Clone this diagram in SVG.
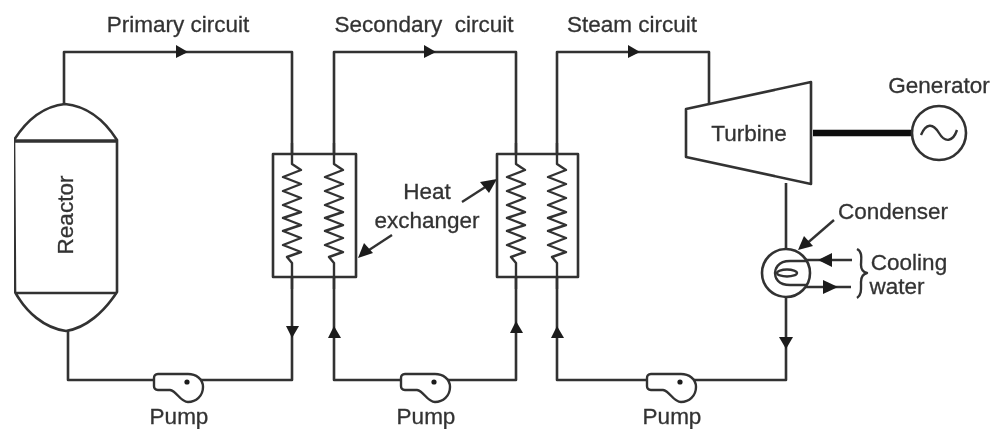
<svg xmlns="http://www.w3.org/2000/svg" width="993" height="429" viewBox="0 0 993 429">
<defs>
<style>
.l{fill:none;stroke:#333;stroke-width:2.6;stroke-linejoin:round}
.c{fill:none;stroke:#333;stroke-width:2.4;stroke-linejoin:round}
.a{fill:#1c1c1c}
text{font-family:"Liberation Sans",Arial,sans-serif;font-size:22.5px;fill:#333;stroke:#333;stroke-width:.3;text-anchor:middle}
</style>
<filter id="soft" x="0" y="0" width="100%" height="100%"><feGaussianBlur stdDeviation="0.6"/></filter>
<g id="coil"><path class="c" d="M0 0V21L9 27-9 34 9 41-9 48 9 55-9 62 9 69-9 75 9 82-9 88 9 95-9 102 9 109-5 114 0 120V146"/></g>
<g id="pump"><path d="M4 1H34C42 1 49 6 49 14 49 23 42 29 34 29 26 29 23 18 16 17H4C1 17 0 15 0 13V5C0 3 1 1 4 1Z" style="fill:#fff;stroke:#333;stroke-width:2.4;stroke-linejoin:round"/><circle class="a" cx="33" cy="9" r="2.6"/></g>
</defs>
<rect width="993" height="429" fill="#fff"/>
<g filter="url(#soft)">
<g id="connectors">
<path class="l" d="M64 104V52H292V154"/>
<path class="l" d="M292 277V380H68V330"/>
<path class="l" d="M334 154V52H516V154"/>
<path class="l" d="M334 277V380H516V277"/>
<path class="l" d="M557 154V52H709V104"/>
<path class="l" d="M557 277V380H786V298"/>
<path class="l" d="M786 183V249"/>
<path d="M813 133H912" fill="none" stroke="#111" stroke-width="6.5"/>
<path class="c" d="M805 260H852M805 287H851"/>
<path class="c" d="M392 235L366 252"/>
<path class="c" d="M462 202L490 184"/>
<path class="c" d="M834 220L804 246"/>
<path class="a" d="M176 45 188 52 176 58Z"/>
<path class="a" d="M424 45 436 52 424 58Z"/>
<path class="a" d="M628 45 640 52 628 58Z"/>
<path class="a" d="M286 326H299L292 338Z"/>
<path class="a" d="M328 338H341L334 326Z"/>
<path class="a" d="M510 333H523L516 321Z"/>
<path class="a" d="M551 338H564L557 326Z"/>
<path class="a" d="M779 337H793L786 349Z"/>
<path class="a" d="M358 258 364 243 373 253Z"/>
<path class="a" d="M497 179 489 193 480 182Z"/>
<path class="a" d="M798 250 804 236 813 246Z"/>
<path class="a" d="M818 260 832 253V267Z"/>
<path class="a" d="M838 287 823 280V294Z"/>
</g>
<g id="reactor">
<path class="l" d="M14 140C28 118 46 106 65 104 85 106 103 118 117 140V292C104 312 86 328 66 331 44 328 26 312 15 292Z"/>
<path class="l" d="M14 141H117" style="stroke-width:3.4"/>
<path class="l" d="M15 293H117"/>
<text transform="translate(73 215) rotate(-90)">Reactor</text>
</g>
<g id="exchanger-1">
<rect class="l" x="273" y="154" width="83" height="123"/>
<use href="#coil" x="292" y="143"/>
<use href="#coil" x="334" y="143"/>
</g>
<g id="exchanger-2">
<rect class="l" x="497" y="154" width="81" height="123"/>
<use href="#coil" x="516" y="143"/>
<use href="#coil" x="557" y="143"/>
</g>
<g id="turbine">
<path class="l" d="M686 109 811 82V184L686 157Z"/>
<text x="749" y="141">Turbine</text>
</g>
<g id="generator">
<circle class="l" cx="939" cy="133" r="27"/>
<path class="c" d="M921 135C926 123 933 123 939 133 945 143 953 142 957 130"/>
<text x="939" y="93">Generator</text>
</g>
<g id="condenser">
<circle class="l" cx="786" cy="273" r="24"/>
<path class="c" d="M806 261H790C777 261 775 270 775 273 775 278 778 285 790 285H806"/>
<ellipse class="c" cx="787" cy="273" rx="10" ry="3.5"/>
<text x="893" y="219">Condenser</text>
<path class="c" d="M857 249C863 252 861 260 861 265 861 270 863 272 867 273 863 274 861 277 861 282 861 288 862 295 857 298"/>
<text x="909" y="270">Cooling</text>
<text x="897" y="294">water</text>
</g>
<g id="pump-1"><use href="#pump" x="154" y="373"/><text x="179" y="424">Pump</text></g>
<g id="pump-2"><use href="#pump" x="401" y="373"/><text x="426" y="424">Pump</text></g>
<g id="pump-3"><use href="#pump" x="647" y="373"/><text x="672" y="424">Pump</text></g>
<g id="labels">
<text x="178" y="32">Primary circuit</text>
<text x="424" y="32" xml:space="preserve">Secondary  circuit</text>
<text x="632" y="32">Steam circuit</text>
<text x="427" y="199">Heat</text>
<text x="427" y="228">exchanger</text>
</g>
</g>
</svg>
